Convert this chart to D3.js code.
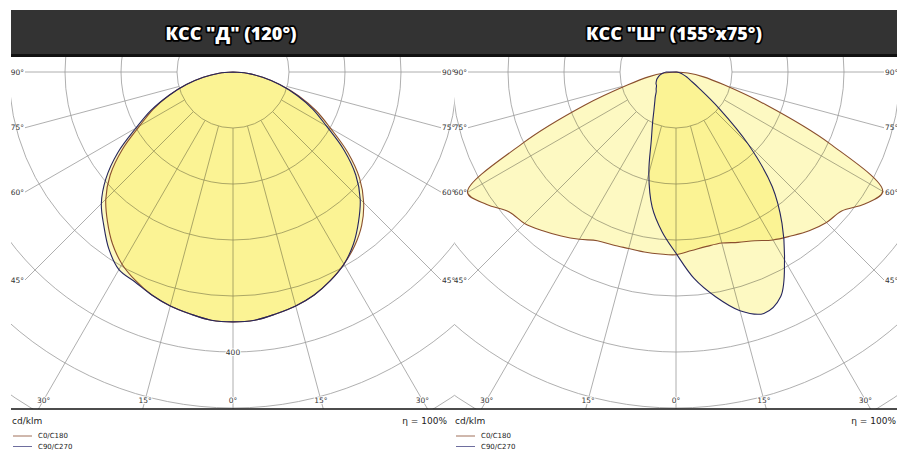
<!DOCTYPE html>
<html>
<head>
<meta charset="utf-8">
<script src="https://cdn.jsdelivr.net/npm/d3@7"></script>
<style>
  body { margin: 0; background: #fff; }
  .fill { mix-blend-mode: multiply; }
</style>
</head>
<body>
<div id="chart"></div>
<script>
// angles from nadir, degrees
var gammas = [0, 5, 10, 15, 20, 25, 30, 35, 40, 45, 50, 55, 60, 65, 70, 75, 80, 85, 90];

// intensities, cd/klm
// left diagram  KSS "D"
var dC0   = [357, 356, 351, 346, 339, 329, 317, 303, 286, 264, 236, 200, 161, 131, 100, 69, 43, 20, 0];
var dC180 = [357, 356, 351, 346, 339, 329, 317, 300, 279, 257, 229, 193, 154, 126, 97, 69, 43, 20, 0];
var dC90  = [357, 356, 351, 346, 339, 329, 317, 300, 279, 257, 229, 193, 154, 126, 97, 69, 43, 20, 0];
var dC270 = [357, 356, 351, 346, 339, 331, 326, 309, 287, 266, 237, 201, 160, 129, 97, 69, 43, 20, 0];
// right diagram KSS "Sh"
var sC0   = [261, 256, 253, 253, 259, 266, 277, 286, 296, 304, 309, 329, 341, 243, 136, 71, 40, 17, 0];
var sC180 = [261, 261, 261, 261, 263, 266, 276, 286, 296, 306, 311, 330, 344, 243, 139, 71, 40, 17, 0];
var sC90  = [259, 296, 326, 353, 367, 354, 310, 264, 214, 146, 79, 40, 24, 17, 11, 7, 4, 1, 0];
var sC270 = [259, 229, 196, 150, 103, 79, 63, 53, 46, 40, 37, 34, 33, 31, 29, 26, 23, 19, 14];

var ringValues = [80, 160, 240, 320, 400, 480, 560, 640];
var gridAngles = [0, 15, 30, 45, 60, 75, 90];
var legendNames = ["C0/C180", "C90/C270"];
var titles = ['КСС "Д" (120°)', 'КСС "Ш" (155°x75°)'];

var width = 897, height = 454;
var cy = 72, bottom = 409, side = 208;
var colC0 = "#8a4f2e", colC90 = "#26265e", fillCol = "#fdf9c2";

var svg = d3.select("#chart").append("svg")
    .attr("width", width)
    .attr("height", height)
    .style("background-color", "white");

var r = d3.scaleLinear().domain([0, 80]).range([0, 56]);
var rad = Math.PI / 180;

var charts = [
  {cx: 233, x0: 11, x1: 454.5, title: titles[0], a: [dC180, dC0], b: [dC270, dC90], ring: true},
  {cx: 676, x0: 454.5, x1: 897, title: titles[1], a: [sC180, sC0], b: [sC270, sC90], ring: false}
];

// header bar
svg.append("rect").attr("x", 11).attr("y", 10).attr("width", 886).attr("height", 44).attr("fill", "#333");
svg.append("rect").attr("x", 11).attr("y", 54).attr("width", 886).attr("height", 3).attr("fill", "#111");

// radial line: left part reversed (C180/C270), right part (C0/C90)
function curvePoints(leftVals, rightVals) {
  var pts = [];
  for (var i = gammas.length - 1; i >= 0; i--) pts.push([Math.PI + gammas[i] * rad, r(leftVals[i])]);
  for (var j = 1; j < gammas.length; j++) pts.push([Math.PI - gammas[j] * rad, r(rightVals[j])]);
  return pts;
}
var line = d3.lineRadial()
    .angle(function(d) { return d[0]; })
    .radius(function(d) { return d[1]; })
    .curve(d3.curveCatmullRom.alpha(0.5));

charts.forEach(function(c, k) {
  var clipId = "clip" + k;
  svg.append("clipPath").attr("id", clipId)
    .append("rect").attr("x", c.x0).attr("y", 57).attr("width", c.x1 - c.x0).attr("height", bottom - 57);

  var g = svg.append("g").attr("clip-path", "url(#" + clipId + ")");
  var p = g.append("g").attr("transform", "translate(" + c.cx + "," + cy + ")");

  // rings
  p.selectAll("circle.ring")
    .data(ringValues)
    .enter().append("circle")
      .attr("class", "ring")
      .attr("r", function(d) { return r(d); })
      .attr("fill", "none")
      .attr("stroke", "#9a9a9a")
      .attr("stroke-width", 0.8);

  // spokes, ending at the label frame
  var spokes = [];
  gridAngles.forEach(function(a) {
    [-1, 1].forEach(function(s) {
      if (a === 0 && s === 1) return;
      var sn = Math.sin(a * rad), cs = Math.cos(a * rad);
      var tSide = sn > 0 ? side / sn : Infinity;
      var tBot = cs > 0 ? (bottom - cy) / cs : Infinity;
      spokes.push({a: a, s: s, sn: sn, cs: cs, end: Math.min(tSide, tBot), atSide: tSide < tBot});
    });
  });
  p.selectAll("line.spoke")
    .data(spokes)
    .enter().append("line")
      .attr("x1", function(d) { return d.s * d.sn * r(80); })
      .attr("y1", function(d) { return d.cs * r(80); })
      .attr("x2", function(d) { return d.s * d.sn * d.end; })
      .attr("y2", function(d) { return d.cs * d.end; })
      .attr("stroke", "#9a9a9a")
      .attr("stroke-width", 0.8);

  // fills and outlines
  var pathA = line(curvePoints(c.a[0], c.a[1])) + "Z";
  var pathB = line(curvePoints(c.b[0], c.b[1])) + "Z";
  p.append("path").attr("class", "fill").attr("d", pathA).attr("fill", fillCol);
  p.append("path").attr("class", "fill").attr("d", pathB).attr("fill", fillCol);
  p.append("path").attr("d", pathA).attr("fill", "none").attr("stroke", colC0).attr("stroke-width", 1.1);
  p.append("path").attr("d", pathB).attr("fill", "none").attr("stroke", colC90).attr("stroke-width", 1.1);

  // angle labels
  var lab = svg.append("g")
    .attr("transform", "translate(" + c.cx + "," + cy + ")")
    .style("font-family", "'DejaVu Sans', sans-serif")
    .style("font-size", "7.5px")
    .attr("fill", "#333");
  spokes.forEach(function(d) {
    var t = lab.append("text").text(d.a + "°");
    if (d.atSide) {
      t.attr("x", d.s * (side + 1))
       .attr("y", d.cs * d.end)
       .attr("dy", "0.35em")
       .attr("text-anchor", d.s < 0 ? "end" : "start");
    } else {
      var yy = bottom - cy - 9;
      t.attr("x", d.s * yy * d.sn / d.cs)
       .attr("y", yy)
       .attr("dy", "0.35em")
       .attr("text-anchor", "middle")
       .attr("stroke", "white").attr("stroke-width", 2).attr("paint-order", "stroke");
    }
  });
  if (c.ring) {
    lab.append("text").text("400")
      .attr("x", 0).attr("y", r(400)).attr("dy", "0.35em")
      .attr("text-anchor", "middle")
      .attr("stroke", "white").attr("stroke-width", 2).attr("paint-order", "stroke");
  }

  // title
  svg.append("text")
    .attr("x", c.cx - 2)
    .attr("y", 40)
    .attr("text-anchor", "middle")
    .style("font-family", "'Open Sans', sans-serif")
    .style("font-weight", 800)
    .style("font-size", "18px")
    .attr("fill", "white")
    .attr("stroke", "black")
    .attr("stroke-width", 3.5)
    .attr("stroke-linejoin", "round")
    .attr("paint-order", "stroke")
    .text(c.title);

  // footer
  var left = k === 0 ? 12 : 455;
  var right = k === 0 ? 447 : 896;
  var foot = svg.append("g")
    .style("font-family", "'DejaVu Sans', sans-serif")
    .attr("fill", "#222");
  foot.append("text").attr("x", left).attr("y", 424).style("font-size", "9px").text("cd/klm");
  foot.append("text").attr("x", right).attr("y", 424).attr("text-anchor", "end").style("font-size", "9px").text("η = 100%");
  legendNames.forEach(function(n, i) {
    var ly = 436 + i * 10.5;
    foot.append("line")
      .attr("x1", left + 1).attr("x2", left + 20)
      .attr("y1", ly).attr("y2", ly)
      .attr("stroke", i === 0 ? "#a0705a" : "#6e6e9e")
      .attr("stroke-width", 1);
    foot.append("text").attr("x", left + 26).attr("y", ly).attr("dy", "0.35em")
      .style("font-size", "7px").text(n);
  });
});

// bottom rule
svg.append("line")
  .attr("x1", 11).attr("x2", 897)
  .attr("y1", bottom).attr("y2", bottom)
  .attr("stroke", "#111")
  .attr("stroke-width", 1.6);
</script>
</body>
</html>
